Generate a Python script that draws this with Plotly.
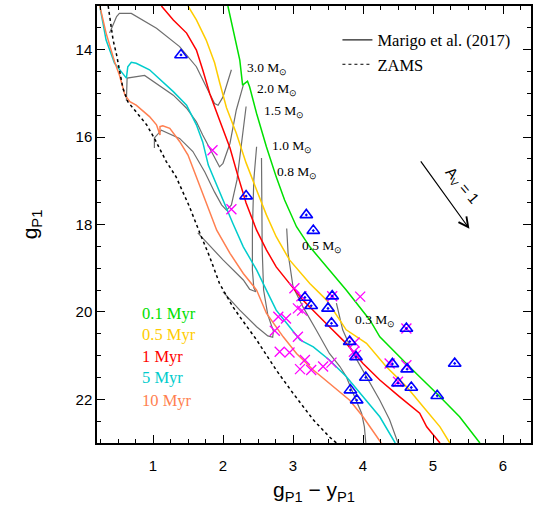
import plotly.graph_objects as go

# ---------------- data ----------------
# isochrones (g-y, g)
iso_01_x = [2.07, 2.24, 2.28, 2.35, 2.38, 2.48, 2.62, 2.76, 2.88, 3.05, 3.24, 3.48, 3.76, 4.10, 4.24, 4.71, 5.05, 5.38, 5.67]
iso_01_y = [13.0, 14.24, 14.81, 14.72, 14.85, 15.46, 16.22, 16.91, 17.44, 18.05, 18.51, 18.97, 19.50, 20.19, 20.57, 21.33, 21.86, 22.40, 23.0]

iso_05_x = [1.50, 1.62, 1.76, 1.88, 1.95, 2.05, 2.19, 2.33, 2.48, 2.62, 2.76, 2.95, 3.24, 3.48, 3.76, 4.05, 4.33, 4.62, 4.86, 5.10, 5.24]
iso_05_y = [13.0, 13.32, 13.78, 14.30, 14.74, 15.33, 15.91, 16.59, 17.21, 17.78, 18.28, 18.81, 19.35, 19.73, 20.41, 20.72, 21.25, 21.71, 22.17, 22.63, 23.0]

iso_1_x = [1.12, 1.29, 1.48, 1.62, 1.71, 1.81, 1.95, 2.10, 2.21, 2.33, 2.48, 2.62, 2.76, 2.95, 3.14, 3.52, 3.76, 4.00, 4.24, 4.52, 4.81, 4.91, 5.10]
iso_1_y = [13.0, 13.32, 13.62, 14.01, 14.46, 15.0, 15.61, 16.25, 16.87, 17.51, 18.13, 18.58, 18.97, 19.35, 19.73, 20.34, 20.72, 21.18, 21.56, 21.94, 22.32, 22.63, 23.0]

iso_5_x = [0.24, 0.33, 0.45, 0.52, 0.62, 0.64, 0.69, 0.76, 0.95, 1.29, 1.48, 1.62, 1.71, 1.79, 1.86, 2.00, 2.14, 2.29, 2.48, 2.62, 2.76, 2.95, 3.10, 3.29, 3.52, 3.76, 4.00, 4.24, 4.46]
iso_5_y = [13.0, 13.78, 14.31, 14.46, 14.65, 14.39, 14.29, 14.31, 14.46, 14.96, 15.27, 15.72, 16.11, 16.64, 16.91, 17.44, 17.97, 18.51, 19.04, 19.50, 19.96, 20.34, 20.64, 20.80, 21.10, 21.48, 21.94, 22.40, 23.0]

iso_10_x = [0.24, 0.33, 0.45, 0.52, 0.60, 0.67, 0.76, 0.95, 1.05, 1.10, 1.10, 1.14, 1.24, 1.38, 1.50, 1.62, 1.76, 1.91, 2.10, 2.29, 2.48, 2.62, 2.86, 3.05, 3.29, 3.52, 3.81, 4.00, 4.26]
iso_10_y = [13.0, 13.62, 14.27, 14.58, 15.04, 15.19, 15.27, 15.53, 15.72, 15.95, 15.76, 15.74, 15.80, 16.10, 16.41, 16.91, 17.51, 18.13, 18.66, 19.12, 19.50, 20.03, 20.57, 20.95, 21.33, 21.63, 22.02, 22.40, 23.0]

iso_names = ["0.1 Myr", "0.5 Myr", "1 Myr", "5 Myr", "10 Myr"]
iso_colors = ["#00e000", "#ffcc00", "#ff0000", "#00cccc", "#ff7f50"]

# ZAMS
zams_x = [0.36, 0.43, 0.48, 0.57, 0.64, 0.76, 0.91, 1.02, 1.19, 1.33, 1.52, 1.67, 1.81, 1.95, 2.14, 2.24, 2.48, 2.76, 3.00, 3.29, 3.52, 3.62]
zams_y = [13.0, 13.78, 14.12, 14.88, 15.19, 15.42, 15.72, 16.03, 16.56, 16.91, 17.59, 18.20, 18.74, 19.35, 19.88, 20.11, 20.64, 21.33, 21.86, 22.47, 22.86, 23.0]

# Marigo et al. (2017) evolutionary tracks
trk_30_x = [2.12, 2.05, 2.00, 1.93, 1.88, 1.76, 1.62, 1.38, 1.05, 0.69, 0.52, 0.48, 0.38]
trk_30_y = [14.46, 14.81, 15.08, 15.27, 15.23, 14.85, 14.39, 13.93, 13.51, 13.17, 13.17, 13.24, 13.62]
trk_20_x = [2.29, 2.24, 2.19, 2.10, 2.00, 1.95, 1.91, 1.81, 1.71, 1.62, 1.48, 1.29, 0.88, 0.63, 0.62]
trk_20_y = [14.81, 15.08, 15.38, 16.14, 16.60, 16.68, 16.56, 16.26, 15.95, 15.65, 15.34, 15.04, 14.59, 14.65, 15.17]
trk_15_x = [2.33, 2.27, 2.20, 2.12, 2.05, 1.98, 1.88, 1.74, 1.57, 1.38, 1.12, 1.02, 1.02]
trk_15_y = [15.30, 16.07, 16.98, 17.55, 17.67, 17.55, 17.26, 16.80, 16.33, 16.03, 15.84, 16.02, 16.25]
trk_10_x = [2.48, 2.44, 2.42, 2.42, 2.44, 2.47, 2.38, 2.29, 2.00, 1.67, 1.64]
trk_10_y = [16.22, 16.98, 18.13, 19.04, 19.45, 19.54, 19.48, 19.27, 18.81, 18.26, 18.19]
trk_08_x = [2.55, 2.55, 2.56, 2.58, 2.64, 2.72, 2.71, 2.64, 2.48, 2.24, 2.00]
trk_08_y = [16.48, 17.44, 18.58, 19.50, 20.07, 20.44, 20.58, 20.55, 20.34, 19.96, 19.54]
trk_05_x = [2.91, 2.93, 3.00, 3.14, 3.33, 3.52, 3.67, 3.76, 3.88, 3.98, 4.02, 4.04]
trk_05_y = [18.09, 18.66, 19.42, 19.88, 20.41, 20.95, 21.25, 21.48, 21.94, 22.32, 22.63, 23.0]
trk_03_x = [3.62, 3.71, 3.86, 4.05, 4.24, 4.38, 4.50]
trk_03_y = [19.80, 20.41, 20.95, 21.48, 22.02, 22.47, 23.0]

trk_labels = ["3.0", "2.0", "1.5", "1.0", "0.8", "0.5", "0.3"]
trk_label_x = [2.31, 2.45, 2.55, 2.67, 2.74, 3.10, 3.86]
trk_label_y = [14.42, 14.91, 15.42, 16.22, 16.80, 18.51, 20.19]

# stars: blue triangles
tri_x = [1.40, 2.33, 3.19, 3.29, 3.17, 3.26, 3.56, 3.50, 3.55, 4.62, 3.81, 3.90, 4.04, 3.82, 3.91, 4.42, 4.63, 4.50, 4.69, 5.31, 5.06]
tri_y = [14.12, 17.35, 17.78, 18.14, 19.67, 19.86, 19.64, 19.92, 20.26, 20.38, 20.68, 21.03, 21.50, 21.79, 22.02, 21.19, 21.31, 21.63, 21.73, 21.18, 21.92]

# stars: magenta crosses
crs_x = [1.85, 2.12, 3.02, 3.12, 3.07, 3.13, 3.56, 3.96, 2.79, 2.90, 3.07, 2.74, 2.81, 2.95, 3.17, 3.10, 3.26, 3.43, 3.55, 3.88, 3.87, 3.90, 4.38, 4.62, 4.50, 4.62]
crs_y = [16.30, 17.65, 19.46, 19.64, 19.92, 19.97, 19.64, 19.65, 20.11, 20.15, 20.57, 20.43, 20.91, 20.93, 21.10, 21.31, 21.33, 21.25, 21.16, 20.70, 20.91, 20.99, 21.18, 21.22, 21.60, 20.38]

# extinction vector
av_x0, av_y0, av_x1, av_y1 = 4.81, 16.52, 5.52, 18.10

x_ticks = [1, 2, 3, 4, 5, 6]
y_ticks = [14, 16, 18, 20, 22]

# ---------------- figure ----------------
SERIF = "Liberation Serif, Times New Roman, serif"
SANS = "Liberation Sans, Arial, sans-serif"

fig = go.Figure()

tracks = [(trk_30_x, trk_30_y), (trk_20_x, trk_20_y), (trk_15_x, trk_15_y), (trk_10_x, trk_10_y),
          (trk_08_x, trk_08_y), (trk_05_x, trk_05_y), (trk_03_x, trk_03_y)]
for tx, ty in tracks:
    fig.add_trace(go.Scatter(x=tx, y=ty, mode="lines", line=dict(color="#6e6e6e", width=1.2),
                             showlegend=False, hoverinfo="skip"))

isos = [(iso_01_x, iso_01_y), (iso_05_x, iso_05_y), (iso_1_x, iso_1_y), (iso_5_x, iso_5_y), (iso_10_x, iso_10_y)]
for (ix, iy), nm, col in zip(isos, iso_names, iso_colors):
    fig.add_trace(go.Scatter(x=ix, y=iy, mode="lines", name=nm, line=dict(color=col, width=1.5),
                             showlegend=False))

fig.add_trace(go.Scatter(x=zams_x, y=zams_y, mode="lines", line=dict(color="black", width=1.5, dash="dot"),
                         showlegend=False))

fig.add_trace(go.Scatter(x=crs_x, y=crs_y, mode="markers", showlegend=False,
                         marker=dict(symbol="x-thin-open", size=10, color="#ff00ff",
                                     line=dict(color="#ff00ff", width=1.3))))
fig.add_trace(go.Scatter(x=tri_x, y=tri_y, mode="markers", showlegend=False,
                         marker=dict(symbol="triangle-up-open-dot", size=11, color="#0000ff",
                                     line=dict(color="#0000ff", width=1.6))))

# legend entries
fig.add_trace(go.Scatter(x=[None], y=[None], mode="lines", name="Marigo et al. (2017)",
                         line=dict(color="#222222", width=1.2)))
fig.add_trace(go.Scatter(x=[None], y=[None], mode="lines", name="ZAMS",
                         line=dict(color="black", width=1, dash="dot")))

ann = []
for lab, lx, ly in zip(trk_labels, trk_label_x, trk_label_y):
    ann.append(dict(x=lx, y=ly, xref="x", yref="y", text=lab + " M<sub>⊙</sub>", showarrow=False,
                    xanchor="left", yanchor="middle", font=dict(family=SERIF, size=13.5, color="black")))

age_y = [20.03, 20.51, 21.01, 21.51, 22.02]
for nm, col, ay in zip(iso_names, iso_colors, age_y):
    ann.append(dict(x=0.81, y=ay, xref="x", yref="y", text=nm, showarrow=False,
                    xanchor="left", yanchor="middle", font=dict(family=SERIF, size=16.5, color=col)))

ann.append(dict(x=av_x1, y=av_y1, ax=av_x0, ay=av_y0, xref="x", yref="y", axref="x", ayref="y",
                text="", showarrow=True, arrowhead=5, arrowsize=1.6, arrowwidth=1.2, arrowcolor="black"))
ann.append(dict(x=5.41, y=17.10, xref="x", yref="y", text="A<sub>V</sub> = 1", showarrow=False,
                textangle=50, font=dict(family=SANS, size=15, color="black")))

fig.update_layout(
    width=534, height=509,
    margin=dict(l=97, r=3, t=6, b=66, autoexpand=False),
    plot_bgcolor="white", paper_bgcolor="white",
    annotations=ann,
    showlegend=True,
    legend=dict(x=0.554, y=0.962, xanchor="left", yanchor="top", bgcolor="rgba(0,0,0,0)",
                font=dict(family=SERIF, size=16.5, color="black"), tracegroupgap=0),
)
fig.update_xaxes(range=[0.2, 6.4], tickvals=x_ticks, ticks="inside", ticklen=8, tickwidth=1,
                 tickcolor="black", showline=True, linecolor="black", linewidth=1.5, mirror="allticks",
                 showgrid=False, zeroline=False, automargin=False,
                 minor=dict(dtick=0.25, tick0=0, ticks="inside", ticklen=4, tickcolor="black", showgrid=False),
                 tickfont=dict(family=SANS, size=15, color="black"), ticklabelstandoff=8,
                 title=dict(text="g<sub>P1</sub> − y<sub>P1</sub>", font=dict(family=SANS, size=21, color="black"),
                            standoff=10))
fig.update_yaxes(range=[23, 13], tickvals=y_ticks, ticks="inside", ticklen=8, tickwidth=1,
                 tickcolor="black", showline=True, linecolor="black", linewidth=1.5, mirror="allticks",
                 showgrid=False, zeroline=False, automargin=False,
                 minor=dict(dtick=0.5, tick0=13, ticks="inside", ticklen=4, tickcolor="black", showgrid=False),
                 tickfont=dict(family=SANS, size=15, color="black"), ticklabelstandoff=0,
                 title=dict(text="g<sub>P1</sub>", font=dict(family=SANS, size=21, color="black"), standoff=32))

fig.write_html("out.html", config={"displayModeBar": False},
               post_script="document.body.style.margin='0';document.body.style.overflow='hidden';")
